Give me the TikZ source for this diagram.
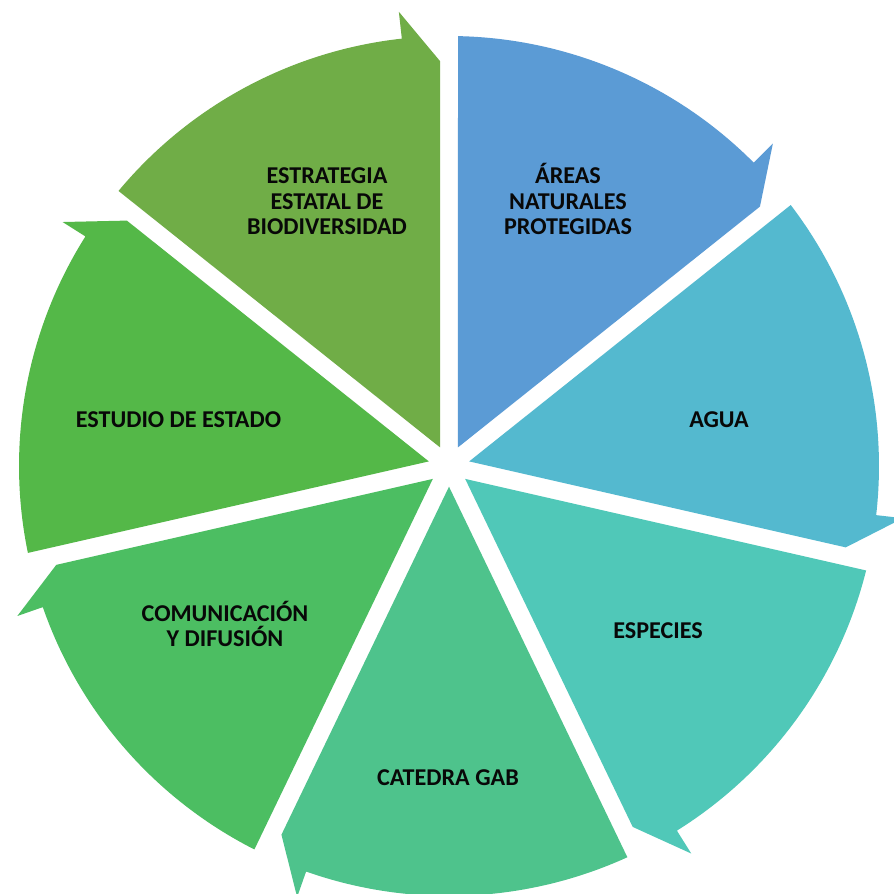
\documentclass[tikz,border=0pt]{standalone}
\usepackage{fontspec}
\setmainfont{Carlito}
\usepackage{tikz}

\begin{document}
\begin{tikzpicture}[x=0.75pt,y=0.75pt,yscale=-1,xscale=1,
  segment/.style={draw=none},
  segtext/.style={anchor=center,inner sep=0pt,align=center,font=\fontsize{18.1}{19.1}\selectfont\bfseries,text={rgb, 255:red, 8; green, 8; blue, 8 }}]
  %set diagram to 894 x 894
  \useasboundingbox (0,0) rectangle (894,894);
  \fill [white] (0,0) rectangle (894,894);
  \clip (0,0) rectangle (894,894);

  \begin{scope}[shift={(449,466)},yscale=-1]
  %Shape: Segment [id:areas]
  \fill [segment, fill={rgb, 255:red, 91; green, 155; blue, 213 }] (64.29:20.7) -- (88.8:430) arc [start angle=88.8, end angle=44.87, radius=430] -- (44.87:457) -- (39.84:405) -- cycle ;
  %Shape: Segment [id:agua]
  \fill [segment, fill={rgb, 255:red, 84; green, 185; blue, 207 }] (12.86:20.7) -- (37.37:430) arc [start angle=37.37, end angle=-6.56, radius=430] -- (-6.56:457) -- (-11.59:405) -- cycle ;
  %Shape: Segment [id:especies]
  \fill [segment, fill={rgb, 255:red, 80; green, 200; blue, 184 }] (-38.57:20.7) -- (-14.06:430) arc [start angle=-14.06, end angle=-57.99, radius=430] -- (-57.99:457) -- (-63.02:405) -- cycle ;
  %Shape: Segment [id:catedra]
  \fill [segment, fill={rgb, 255:red, 78; green, 195; blue, 140 }] (-90:20.7) -- (-65.49:430) arc [start angle=-65.49, end angle=-109.41, radius=430] -- (-109.41:457) -- (-114.44:405) -- cycle ;
  %Shape: Segment [id:comunicacion]
  \fill [segment, fill={rgb, 255:red, 76; green, 190; blue, 98 }] (-141.43:20.7) -- (-116.91:430) arc [start angle=-116.91, end angle=-160.84, radius=430] -- (-160.84:457) -- (-165.87:405) -- cycle ;
  %Shape: Segment [id:estudio]
  \fill [segment, fill={rgb, 255:red, 84; green, 184; blue, 72 }] (-192.86:20.7) -- (-168.34:430) arc [start angle=-168.34, end angle=-212.27, radius=430] -- (-212.27:457) -- (-217.30:405) -- cycle ;
  %Shape: Segment [id:estrategia]
  \fill [segment, fill={rgb, 255:red, 112; green, 173; blue, 71 }] (-244.29:20.7) -- (-219.77:430) arc [start angle=-219.77, end angle=-263.7, radius=430] -- (-263.7:457) -- (-268.73:405) -- cycle ;
  \end{scope}

  % Text Node
  \node [segtext] (estrategia) at (327,201.5) {ESTRATEGIA\\ESTATAL DE\\BIODIVERSIDAD};
  % Text Node
  \node [segtext] (areas) at (568,199) {ÁREAS\\NATURALES\\PROTEGIDAS};
  % Text Node
  \node [segtext] (agua) at (719,420) {AGUA};
  % Text Node
  \node [segtext] (especies) at (658,631) {ESPECIES};
  % Text Node
  \node [segtext] (catedra) at (448,777.5) {CATEDRA GAB};
  % Text Node
  \node [segtext] (comunicacion) at (225,624) {COMUNICACIÓN\\Y DIFUSIÓN};
  % Text Node
  \node [segtext] (estudio) at (178.5,419.5) {ESTUDIO DE ESTADO};

\end{tikzpicture}
\end{document}
